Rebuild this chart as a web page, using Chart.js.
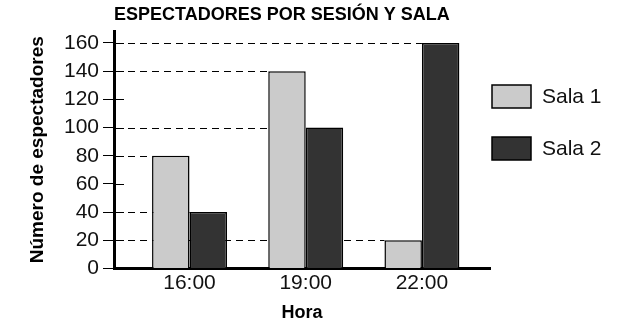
<!DOCTYPE html>
<html>
<head>
<meta charset="utf-8">
<script src="https://cdn.jsdelivr.net/npm/chart.js@4.4.1/dist/chart.umd.min.js"></script>
<style>
  html, body { margin: 0; padding: 0; background: #fff; }
  #wrap { width: 618px; height: 324px; }
</style>
</head>
<body>
<div id="wrap"><canvas id="salaChart" width="618" height="324"></canvas></div>
<script>
const horas = ['16:00', '19:00', '22:00'];
const sala1 = [80, 140, 20];
const sala2 = [40, 100, 160];
const yTicks = [0, 20, 40, 60, 80, 100, 120, 140, 160];
const serieNames = ['Sala 1', 'Sala 2'];
const serieColors = ['#cbcbcb', '#333333'];

Chart.defaults.font.family = '"Liberation Sans", Arial, sans-serif';
Chart.defaults.color = '#111';

// dashed leaders from the y axis to the top of each bar (drawn behind the bars)
const leaderLines = {
    id: 'leaderLines',
    beforeDatasetsDraw(chart) {
        const {ctx, chartArea, scales} = chart;
        ctx.save();
        ctx.strokeStyle = '#000';
        ctx.lineWidth = 1;
        scales.y.ticks.forEach(t => {
            if (t.value === 0) return;
            const y = Math.round(scales.y.getPixelForValue(t.value)) + 0.5;
            ctx.beginPath();
            ctx.moveTo(chartArea.left, y);
            ctx.lineTo(chartArea.left + 10, y);
            ctx.stroke();
        });
        ctx.setLineDash([7, 5]);
        chart.data.datasets.forEach((ds, i) => {
            chart.getDatasetMeta(i).data.forEach(bar => {
                const y = Math.round(bar.y) + 0.5;
                ctx.beginPath();
                ctx.moveTo(chartArea.left + 14, y);
                ctx.lineTo(bar.x - bar.width / 2, y);
                ctx.stroke();
            });
        });
        ctx.restore();
    }
};

// legend on the right, boxes + labels from the datasets
const sideLegend = {
    id: 'sideLegend',
    afterDraw(chart) {
        const {ctx} = chart;
        const x = chart.chartArea.right + 2;
        ctx.save();
        chart.data.datasets.forEach((ds, i) => {
            const top = 85 + i * 52;
            ctx.fillStyle = ds.backgroundColor;
            ctx.fillRect(x, top, 39, 23);
            ctx.lineWidth = 1.5;
            ctx.strokeStyle = '#000';
            ctx.strokeRect(x, top, 39, 23);
            ctx.fillStyle = '#111';
            ctx.font = '21px "Liberation Sans"';
            ctx.textBaseline = 'middle';
            ctx.fillText(ds.label, x + 50, top + 12);
        });
        ctx.restore();
    }
};

const tickFont = { family: '"Liberation Sans"', size: 21 };

window.onload = () => {
    const ctx = document.getElementById('salaChart').getContext('2d');
    new Chart(ctx, {
        type: 'bar',
        data: {
            datasets: [
                {
                    label: serieNames[0],
                    data: horas.map((h, i) => ({ x: i, y: sala1[i] })),
                    backgroundColor: serieColors[0],
                    borderColor: '#000',
                    borderWidth: 1.5
                },
                {
                    label: serieNames[1],
                    data: horas.map((h, i) => ({ x: i, y: sala2[i] })),
                    backgroundColor: serieColors[1],
                    borderColor: '#000',
                    borderWidth: 1.5
                }
            ]
        },
        options: {
            responsive: false,
            animation: false,
            categoryPercentage: 0.645,
            barPercentage: 1,
            layout: { padding: { left: 0, right: 128, top: 0, bottom: 0 } },
            plugins: {
                legend: { display: false },
                tooltip: { enabled: false },
                title: {
                    display: true,
                    text: 'ESPECTADORES POR SESIÓN Y SALA',
                    align: 'start',
                    fullSize: false,
                    color: '#000',
                    font: { family: '"Liberation Sans"', size: 18, weight: 'bold' },
                    padding: { top: 4, bottom: 5.4 }
                }
            },
            scales: {
                x: {
                    type: 'linear',
                    offset: false,
                    min: -0.65,
                    max: 2.586,
                    afterBuildTicks: s => { s.ticks = horas.map((h, i) => ({ value: i })); },
                    afterFit: s => { s.height = 55.5; },
                    ticks: {
                        callback: v => horas[v],
                        font: tickFont,
                        color: '#111',
                        padding: 2,
                        autoSkip: false,
                        maxRotation: 0
                    },
                    grid: { drawOnChartArea: false, drawTicks: false, offset: false },
                    border: { color: '#000', width: 3 },
                    title: {
                        display: true,
                        text: 'Hora',
                        color: '#000',
                        font: { family: '"Liberation Sans"', size: 18, weight: 'bold' },
                        padding: { top: 4, bottom: 0 }
                    }
                },
                y: {
                    min: 0,
                    max: 168.5,
                    afterBuildTicks: s => { s.ticks = yTicks.map(v => ({ value: v })); },
                    afterFit: s => { s.width = 114; },
                    ticks: { font: tickFont, color: '#111', padding: 4 },
                    grid: { drawOnChartArea: false, drawTicks: true, tickLength: 11, tickColor: '#000', tickWidth: 1 },
                    border: { color: '#000', width: 3 },
                    title: {
                        display: true,
                        text: 'Número de espectadores',
                        color: '#000',
                        font: { family: '"Liberation Sans"', size: 19, weight: 'bold' },
                        padding: { top: 26, bottom: 0 }
                    }
                }
            }
        },
        plugins: [leaderLines, sideLegend]
    });
};
</script>
</body>
</html>
